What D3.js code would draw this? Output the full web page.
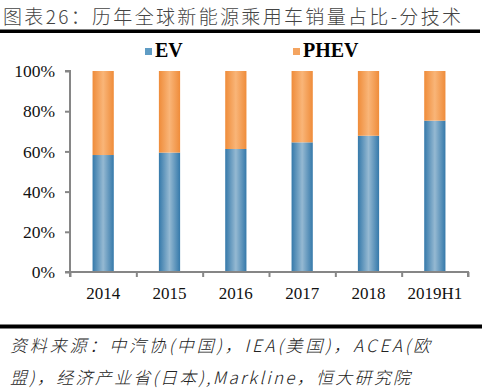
<!DOCTYPE html>
<html><head><meta charset="utf-8">
<script src="https://cdn.jsdelivr.net/npm/d3@7"></script>
<style>body{margin:0;background:#fff}svg{display:block}</style>
</head><body>
<script>
const categories = ["2014","2015","2016","2017","2018","2019H1"];
const evShare = [58.2, 59.4, 61.2, 64.5, 67.8, 75.3];
const phevShare = evShare.map(v => 100 - v);
const yTicks = [0, 20, 40, 60, 80, 100];
const seriesNames = ["EV", "PHEV"];
const titleText = "图表26：历年全球新能源乘用车销量占比-分技术";
const sourceLines = ["资料来源：中汽协(中国)，IEA(美国)，ACEA(欧", "盟)，经济产业省(日本),Markline，恒大研究院"];

const W = 492, H = 389;
const svg = d3.select("body").append("svg").attr("width", W).attr("height", H);
const defs = svg.append("defs");
function grad(id, edge, mid) {
  const g = defs.append("linearGradient").attr("id", id).attr("x1", "0").attr("x2", "1").attr("y1", "0").attr("y2", "0");
  g.append("stop").attr("offset", "0%").attr("stop-color", edge);
  g.append("stop").attr("offset", "50%").attr("stop-color", mid);
  g.append("stop").attr("offset", "100%").attr("stop-color", edge);
}
grad("gEV", "#3579aa", "#95b9d2");
grad("gPH", "#ef8c3a", "#f9b578");

// title
svg.append("text").attr("x", 3).attr("y", 24).attr("font-family", "Noto Sans CJK SC").attr("font-weight", 300)
  .attr("font-size", 19).attr("fill", "#444")
  .attr("textLength", 458).attr("lengthAdjust", "spacing").text(titleText);
svg.append("rect").attr("x", 0).attr("y", 29.5).attr("width", 480).attr("height", 3.5).attr("fill", "#000");

const x = d3.scaleBand().domain(categories).range([70, 468]).paddingInner(0.68).paddingOuter(0.34);
const y = d3.scaleLinear().domain([0, 100]).range([272, 71]);

// bars
const g = svg.append("g");
g.selectAll(".ev").data(categories).join("rect")
  .attr("x", d => x(d)).attr("width", x.bandwidth())
  .attr("y", (d, i) => y(evShare[i])).attr("height", (d, i) => y(0) - y(evShare[i]))
  .attr("fill", "url(#gEV)");
g.selectAll(".ph").data(categories).join("rect")
  .attr("x", d => x(d)).attr("width", x.bandwidth())
  .attr("y", (d, i) => y(100)).attr("height", (d, i) => y(evShare[i]) - y(100))
  .attr("fill", "url(#gPH)");

// axes
const axisColor = "#868686";
const yAxis = svg.append("g").attr("transform", "translate(70,0)")
  .call(d3.axisLeft(y).tickValues(yTicks).tickSize(5).tickPadding(10).tickFormat(d => d + "%"));
const xAxisScale = d3.scalePoint().domain(d3.range(categories.length + 1)).range([70, 468]);
const xAxis = svg.append("g").attr("transform", "translate(0,272)")
  .call(d3.axisBottom(xAxisScale).tickSize(5).tickFormat(""));
[yAxis, xAxis].forEach(a => {
  a.select(".domain").attr("stroke", axisColor).attr("stroke-width", 2);
  a.selectAll(".tick line").attr("stroke", axisColor).attr("stroke-width", 2);
});
yAxis.select(".domain").attr("d", "M-5,71H0V272H-5");
xAxis.select(".domain").attr("d", "M70,5V0H468V5");
yAxis.attr("font-family", "Liberation Serif").attr("font-size", 17.5);
yAxis.selectAll("text").style("font-family", "'Liberation Serif', serif").style("font-size", "17.5px").attr("fill", "#111");
svg.append("g").selectAll("text").data(categories).join("text")
  .attr("x", d => x(d) + x.bandwidth() / 2).attr("y", 299).attr("text-anchor", "middle")
  .style("font-family", "'Liberation Serif', serif").style("font-size", "17px").attr("fill", "#111").text(d => d);

// legend
const legX = [145, 293];
const legFill = ["#5f9cc4", "#f4a460"];
seriesNames.forEach((s, i) => {
  svg.append("rect").attr("x", legX[i]).attr("y", 48).attr("width", 7).attr("height", 7).attr("fill", legFill[i]);
  svg.append("text").attr("x", legX[i] + 10).attr("y", 57).attr("font-family", "Liberation Serif")
    .attr("font-weight", "bold").attr("font-size", 20).attr("fill", "#000").text(s);
});

// bottom rule & source
svg.append("rect").attr("x", 0).attr("y", 324.5).attr("width", 482).attr("height", 4).attr("fill", "#000");
const srcLen = [420, 400];
sourceLines.forEach((t, i) => {
  svg.append("text").attr("x", 10).attr("y", 352 + i * 32).attr("font-family", "Noto Sans CJK SC")
    .attr("font-style", "italic").attr("font-weight", 300).attr("font-size", 17).attr("fill", "#222")
    .attr("textLength", srcLen[i]).attr("lengthAdjust", "spacing").text(t);
});
</script>
</body></html>
